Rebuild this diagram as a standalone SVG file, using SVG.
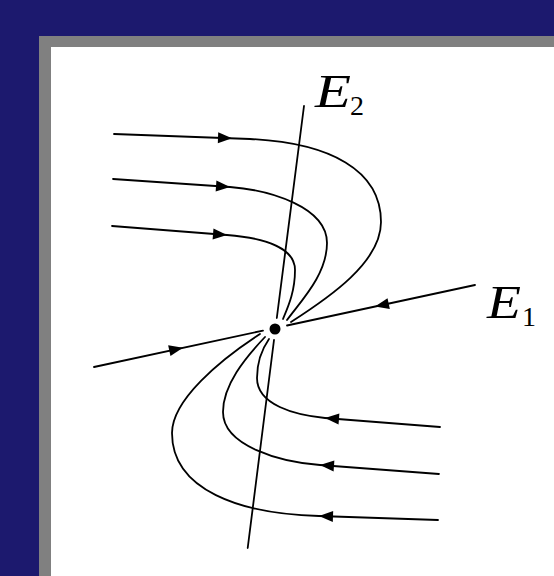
<svg xmlns="http://www.w3.org/2000/svg" xmlns:xlink="http://www.w3.org/1999/xlink" width="554" height="576" viewBox="0 0 554 576">
<style>
.ln{fill:none;stroke:#000;stroke-width:1.8;stroke-linecap:round}
.lab{font-family:"Liberation Serif","DejaVu Serif",serif;font-style:italic;font-size:47px;fill:#000}
.sub{font-family:"Liberation Serif","DejaVu Serif",serif;font-size:28px;fill:#000}
</style>
<defs>
<path id="ah" d="M0,0 L-14,-5.5 L-14,5.5 Z" fill="#000"/>
</defs>
<rect x="0" y="0" width="554" height="576" fill="#1c196e"/>
<rect x="39" y="36" width="515" height="540" fill="#808080"/>
<rect x="51" y="47" width="503" height="529" fill="#ffffff"/>
<g id="connectors">
<path class="ln" d="M94,367 L263,330.6"/>
<path class="ln" d="M287,325.5 L475,285"/>
<path class="ln" d="M304,106 L276.8,318"/>
<path class="ln" d="M274,340 L247.7,548"/>
<path class="ln" d="M114,134 L250,139 C330,143 381,170 381,222 C381,262 330,297 291,322"/>
<path class="ln" d="M113,179 L230,187 C270,190 327,207 327,243 C327,275 300,302 287,320"/>
<path class="ln" d="M112,226 L227,235 C265,238 295,248 295,270 C295,292 288,307 283,319"/>
<path class="ln" d="M440,427 L325,418 C295,415 257,405 257,378 C257,360 262,349 269,339"/>
<path class="ln" d="M439,474 L320,465 C280,462 223,446 223,412 C223,385 245,358 265,337"/>
<path class="ln" d="M438,520 L319,516 C240,514 172,490 172,433 C172,400 220,360 260,334"/>
<use xlink:href="#ah" transform="translate(232,138.3) rotate(2)"/>
<use xlink:href="#ah" transform="translate(230,187) rotate(4)"/>
<use xlink:href="#ah" transform="translate(227,235) rotate(4.5)"/>
<use xlink:href="#ah" transform="translate(325,418) rotate(184.4)"/>
<use xlink:href="#ah" transform="translate(320,465) rotate(184)"/>
<use xlink:href="#ah" transform="translate(319,516) rotate(182)"/>
<use xlink:href="#ah" transform="translate(183,347.8) rotate(-12.1)"/>
<use xlink:href="#ah" transform="translate(375,306.5) rotate(167.9)"/>
</g>
<g id="equilibrium">
<circle cx="275" cy="329" r="5.5" fill="#000"/>
</g>
<g id="label-E2">
<text class="lab" x="315" y="107" textLength="36" lengthAdjust="spacingAndGlyphs">E</text>
<text class="sub" x="350" y="115">2</text>
</g>
<g id="label-E1">
<text class="lab" x="487" y="318" textLength="34" lengthAdjust="spacingAndGlyphs">E</text>
<text class="sub" x="522" y="326">1</text>
</g>
</svg>
